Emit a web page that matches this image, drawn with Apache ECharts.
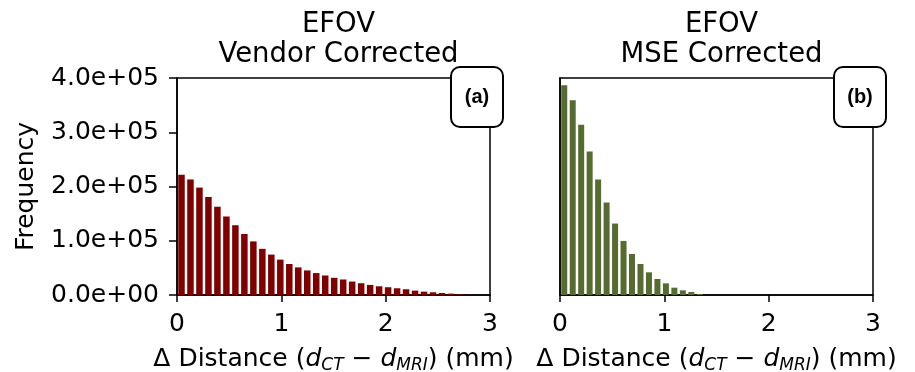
<!DOCTYPE html>
<html>
<head>
<meta charset="utf-8">
<script src="https://cdn.jsdelivr.net/npm/echarts@6/dist/echarts.min.js"></script>
<style>
  html, body { margin: 0; padding: 0; background: #fff; }
  #chart { width: 915px; height: 372px; }
</style>
</head>
<body>
<div id="chart"></div>
<script>
// histogram counts, one per bin starting at 0
const freqVendor = [221700, 213000, 198000, 180700, 162700, 144700, 128600, 112400, 98800, 85100,
  74500, 65200, 57100, 50900, 45300, 40400, 36000, 31700, 28600, 24800,
  21700, 18600, 16100, 14300, 12400, 10600, 8100, 6200, 5000, 3700,
  2500, 1200, 600]
const freqMse = [386500, 358800, 313800, 264600, 212900, 170500, 131700, 99700, 75700, 57200,
  41800, 29500, 21500, 13500, 8600, 5500, 1800]
const binWidthVendor = 0.0861
const binWidthMse = 0.0812
const panelTitles = ['EFOV\nVendor Corrected', 'EFOV\nMSE Corrected']
const panelTags = ['(a)', '(b)']
const xTicks = [0, 1, 2, 3]
const yTicks = [0, 100000, 200000, 300000, 400000]

const FONT = 'DejaVu Sans'

function toBins(freq, w) {
  return freq.map((v, i) => [(i + 0.5) * w, v])
}

function sci(v) {
  if (v === 0) return '0.0e+00'
  const e = Math.floor(Math.log10(v))
  return (v / Math.pow(10, e)).toFixed(1) + 'e+' + String(e).padStart(2, '0')
}

const xName = 'Δ Distance ({it|d}{sub|CT} − {it|d}{sub|MRI}) (mm)'
const xRich = {
  it: { fontFamily: FONT, fontSize: 25, fontStyle: 'italic', color: '#000' },
  sub: { fontFamily: FONT, fontSize: 17, fontStyle: 'italic', color: '#000', padding: [12, 0, 0, 0] }
}

const grids = [
  { left: 177, top: 78, width: 313, height: 217 },
  { left: 560, top: 78, width: 313, height: 217 }
]

function xAxis(idx) {
  return {
    type: 'value',
    gridIndex: idx,
    min: xTicks[0],
    max: xTicks[xTicks.length - 1],
    interval: 1,
    splitLine: { show: false },
    axisLine: { show: true, onZero: false, lineStyle: { color: '#000', width: 1.5 } },
    axisTick: { show: true, length: 7, lineStyle: { color: '#000', width: 1.5 } },
    axisLabel: { fontFamily: FONT, fontSize: 25, color: '#000', margin: 17 },
    name: xName,
    nameLocation: 'middle',
    nameGap: 50,
    nameTextStyle: { fontFamily: FONT, fontSize: 25, color: '#000', rich: xRich }
  }
}

function yAxis(idx) {
  const first = idx === 0
  return {
    type: 'value',
    gridIndex: idx,
    min: yTicks[0],
    max: yTicks[yTicks.length - 1],
    interval: 100000,
    splitLine: { show: false },
    axisLine: { show: true, lineStyle: { color: '#000', width: 1.5 } },
    axisTick: { show: first, length: 8, lineStyle: { color: '#000', width: 1.5 } },
    axisLabel: { show: first, fontFamily: FONT, fontSize: 25, color: '#000', margin: 18, formatter: sci },
    name: first ? 'Frequency' : '',
    nameLocation: 'middle',
    nameRotate: 90,
    nameGap: 138,
    nameTextStyle: { fontFamily: FONT, fontSize: 25, color: '#000' }
  }
}

function tagBox(grid, text) {
  const right = grid.left + grid.width
  return {
    type: 'group',
    x: right - 39,
    y: grid.top - 11,
    z: 100,
    children: [
      {
        type: 'rect',
        shape: { x: 0, y: 0, width: 52, height: 60, r: 9 },
        style: { fill: '#fff', stroke: '#000', lineWidth: 2 }
      },
      {
        type: 'text',
        x: 26,
        y: 30,
        style: {
          text: text, fontFamily: 'Liberation Sans', fontWeight: 'bold', fontSize: 20,
          fill: '#000', align: 'center', verticalAlign: 'middle'
        }
      }
    ]
  }
}

const chart = echarts.init(document.getElementById('chart'))
chart.setOption({
  animation: false,
  backgroundColor: '#fff',
  title: grids.map((g, i) => ({
    text: panelTitles[i],
    left: g.left + g.width / 2,
    top: 5,
    textAlign: 'center',
    textStyle: { fontFamily: FONT, fontSize: 27.5, fontWeight: 'normal', color: '#000', lineHeight: 30 }
  })),
  grid: grids.map(g => Object.assign({
    show: true, borderColor: '#000', borderWidth: 1.5, backgroundColor: 'transparent',
    containLabel: false, outerBoundsMode: 'none'
  }, g)),
  xAxis: [xAxis(0), xAxis(1)],
  yAxis: [yAxis(0), yAxis(1)],
  series: [
    {
      type: 'bar',
      xAxisIndex: 0,
      yAxisIndex: 0,
      barWidth: 6.5,
      itemStyle: { color: '#800000' },
      data: toBins(freqVendor, binWidthVendor)
    },
    {
      type: 'bar',
      xAxisIndex: 1,
      yAxisIndex: 1,
      barWidth: 6,
      itemStyle: { color: '#556b2f' },
      data: toBins(freqMse, binWidthMse)
    }
  ],
  graphic: grids.map((g, i) => tagBox(g, panelTags[i]))
})
</script>
</body>
</html>
